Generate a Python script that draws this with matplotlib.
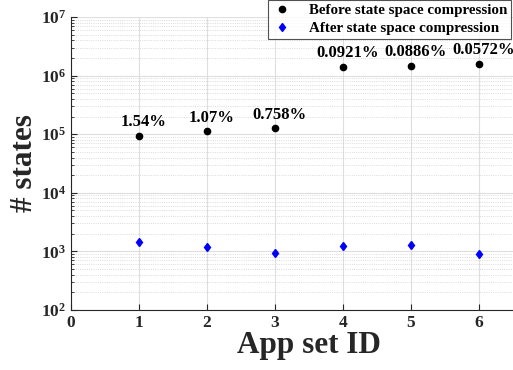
import matplotlib.pyplot as plt
from matplotlib.ticker import LogLocator, NullFormatter

plt.rcParams['font.family'] = ['Liberation Serif', 'DejaVu Serif']
plt.rcParams['font.weight'] = 'bold'
plt.rcParams['mathtext.fontset'] = 'custom'
plt.rcParams['mathtext.rm'] = 'Liberation Serif:bold'
plt.rcParams['mathtext.bf'] = 'Liberation Serif:bold'

# data
app_ids = [1, 2, 3, 4, 5, 6]
before = [9.3e4, 1.12e5, 1.26e5, 1.40e6, 1.48e6, 1.58e6]
after = [1430, 1190, 955, 1260, 1310, 900]
pct_labels = ['1.54%', '1.07%', '0.758%', '0.0921%', '0.0886%', '0.0572%']

fig = plt.figure(figsize=(5.13, 3.70), dpi=100)
ax = fig.add_axes([71/513, 1-310/370, 476/513, 293/370])

ax.plot(app_ids, before, 'o', color='black', ms=4.5, label='Before state space compression')
ax.plot(app_ids, after, 'd', color='blue', ms=4.5, label='After state space compression')

for x, y, s in zip(app_ids, before, pct_labels):
    ax.annotate(s, (x, y), xytext=(3, 4), textcoords='offset points',
                ha='center', va='bottom', fontsize=12, fontweight='bold')

ax.set_yscale('log')
ax.set_ylim(1e2, 1e7)
ax.set_xlim(0, 7)
ax.set_xticks([0, 1, 2, 3, 4, 5, 6])
ax.yaxis.set_major_locator(LogLocator(base=10, numticks=10))
ax.yaxis.set_minor_locator(LogLocator(base=10, subs=range(2, 10), numticks=10))
ax.yaxis.set_minor_formatter(NullFormatter())

ax.grid(True, which='major', color='#dedede', lw=0.8)
ax.grid(True, which='minor', axis='y', color='#cfcfcf', lw=0.6, ls=':')
ax.set_axisbelow(True)

for s in ['top', 'right']:
    ax.spines[s].set_visible(False)
ax.spines['left'].set_color('#262626')
ax.spines['bottom'].set_color('#262626')
ax.tick_params(which='both', direction='in', colors='#262626', labelsize=12.5)
ax.tick_params(which='major', length=4)
ax.tick_params(which='minor', length=2)
for lab in ax.get_xticklabels() + ax.get_yticklabels():
    lab.set_fontweight('bold')

ax.set_xlabel('App set ID', fontsize=22.5, fontweight='bold', color='#262626', labelpad=0)
ax.set_ylabel('# states', fontsize=22.5, fontweight='bold', color='#262626', labelpad=1)

leg = fig.legend(loc='upper right', bbox_to_anchor=(511/513, 1.0), borderaxespad=0,
                 fontsize=10.8, frameon=True, fancybox=False, edgecolor='#262626',
                 handlelength=1.4, borderpad=0.25, labelspacing=0.3, handletextpad=1.1)
leg.get_frame().set_linewidth(0.8)
for t in leg.get_texts():
    t.set_fontweight('bold')

fig.savefig('out.png', dpi=100)
